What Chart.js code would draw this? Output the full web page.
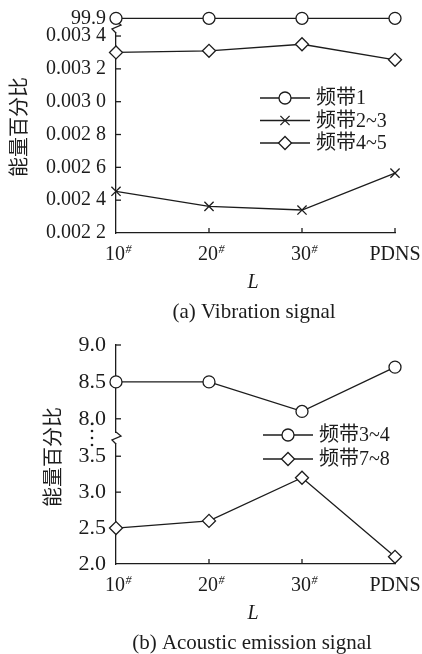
<!DOCTYPE html>
<html lang="zh">
<head>
<meta charset="utf-8">
<title>能量百分比</title>
<script src="https://cdn.jsdelivr.net/npm/chart.js@4.4.0/dist/chart.umd.min.js"></script>
<style>
    html, body { margin: 0; padding: 0; background: #fff; }
    canvas { display: block; }
</style>
</head>
<body>
<canvas id="graficoVibracao" width="422" height="330"></canvas>
<canvas id="graficoAcustico" width="422" height="324"></canvas>
<script>
// Categorias do eixo x (o "#" final vira sobrescrito)
const categorias = ['10#', '20#', '30#', 'PDNS'];

// (a) Sinal de vibração
const vibBanda1 = [99.9, 99.9, 99.9, 99.9];
const vibBanda23 = [0.002454, 0.002362, 0.00234, 0.002565];
const vibBanda45 = [0.0033, 0.00331, 0.00335, 0.003255];
const vibTicksAlto = [99.9];
const vibTicksBaixo = [0.0022, 0.0024, 0.0026, 0.0028, 0.0030, 0.0032, 0.0034];

// (b) Sinal de emissão acústica
const aeBanda34 = [8.5, 8.5, 8.1, 8.7];
const aeBanda78 = [2.5, 2.6, 3.2, 2.1];
const aeTicksAlto = [8.0, 8.5, 9.0];
const aeTicksBaixo = [2.0, 2.5, 3.0, 3.5];

const tinta = '#1c1c1c';
const serif = '"Liberation Serif", "Times New Roman", serif';
const mista = '"Liberation Serif", "Noto Sans CJK SC", serif';
const larguraEixoY = 116;

Chart.defaults.animation = false;

function formatarMilesimos(v) {
    const s = v.toFixed(4);
    return s.slice(0, 5) + ' ' + s.slice(5);
}

function serie(label, dados, eixo, estilo, raio) {
    return {
        label: label,
        data: dados,
        yAxisID: eixo,
        borderColor: tinta,
        borderWidth: 1.3,
        pointStyle: estilo,
        pointRadius: raio,
        pointBorderWidth: 1.3,
        pointBorderColor: tinta,
        pointBackgroundColor: '#fff',
        tension: 0,
        clip: false
    };
}

function eixoY(ticks, min, max, peso, tamanho, formato) {
    return {
        type: 'linear',
        position: 'left',
        stack: 'esquerda',
        stackWeight: peso,
        min: min,
        max: max,
        afterBuildTicks: eixo => { eixo.ticks = ticks.map(v => ({ value: v })); },
        afterFit: eixo => {
            // largura fixa e sem folga extra para os rótulos das pontas
            eixo.width = larguraEixoY;
            eixo.paddingTop = 0;
            eixo.paddingBottom = 0;
        },
        grid: { display: false, drawTicks: false },
        border: { display: true, color: tinta, width: 1.3 },
        ticks: {
            autoSkip: false,
            padding: 10,
            color: tinta,
            font: { family: serif, size: tamanho },
            callback: v => formato(v)
        }
    };
}

// Marcas de escala voltadas para dentro, rótulos do eixo x, legenda e quebra do eixo
const decoracao = {
    id: 'decoracao',
    beforeDatasetsDraw(chart, args, op) {
        const ctx = chart.ctx;
        const area = chart.chartArea;
        ctx.save();
        ctx.strokeStyle = tinta;
        ctx.lineWidth = 1.3;

        // marcas internas
        Object.values(chart.scales).forEach(s => {
            if (s.axis === 'y') {
                s.ticks.forEach(t => {
                    const y = s.getPixelForValue(t.value);
                    if (Math.abs(y - area.bottom) < 1) return;
                    ctx.beginPath();
                    ctx.moveTo(area.left, y);
                    ctx.lineTo(area.left + 5, y);
                    ctx.stroke();
                });
            } else {
                s.ticks.forEach((t, i) => {
                    if (i === 0) return;
                    const x = s.getPixelForTick(i);
                    ctx.beginPath();
                    ctx.moveTo(x, area.bottom);
                    ctx.lineTo(x, area.bottom - 5);
                    ctx.stroke();
                });
            }
        });

        // quebra do eixo entre os dois segmentos empilhados
        const b = chart.scales[op.eixoBaixo].top;
        const x0 = area.left;
        ctx.fillStyle = '#fff';
        ctx.fillRect(x0 - 2, b - 5, 4, 10);
        ctx.beginPath();
        ctx.moveTo(x0, b - 6);
        ctx.lineTo(x0 + 5, b - 2);
        ctx.lineTo(x0 - 4, b + 2);
        ctx.lineTo(x0, b + 6);
        ctx.stroke();

        if (op.pontilhado) {
            ctx.fillStyle = tinta;
            [-8, -1, 6, 13].forEach(d => {
                ctx.beginPath();
                ctx.arc(op.pontilhado, b + d - 6, 1.3, 0, Math.PI * 2);
                ctx.fill();
            });
        }
        ctx.restore();
    },
    afterDraw(chart, args, op) {
        const ctx = chart.ctx;
        const area = chart.chartArea;
        const sx = chart.scales.x;
        ctx.save();
        ctx.fillStyle = tinta;
        ctx.strokeStyle = tinta;

        // rótulos do eixo x com "#" sobrescrito
        categorias.forEach((cat, i) => {
            const x = sx.getPixelForTick(i);
            const sobrescrito = cat.endsWith('#');
            const base = sobrescrito ? cat.slice(0, -1) : cat;
            ctx.font = '20px ' + serif;
            const w = ctx.measureText(base).width;
            ctx.textAlign = 'left';
            ctx.textBaseline = 'alphabetic';
            const inicio = sobrescrito ? x - w / 2 - 1 : x - w / 2;
            ctx.fillText(base, inicio, area.bottom + 27);
            if (sobrescrito) {
                ctx.font = 'italic 12px ' + serif;
                ctx.fillText('#', inicio + w + 0.5, area.bottom + 19.5);
            }
        });

        // título do eixo x e legenda da figura
        ctx.textAlign = 'center';
        ctx.font = 'italic 20px ' + serif;
        ctx.fillText('L', 253, area.bottom + 55);
        ctx.font = '21px ' + serif;
        ctx.fillText(op.legenda, op.legendaX, area.bottom + 85);

        // título do eixo y
        ctx.save();
        ctx.translate(op.tituloY, 127);
        ctx.rotate(-Math.PI / 2);
        ctx.font = '20px "Noto Sans CJK SC", sans-serif';
        ctx.textBaseline = 'middle';
        ctx.fillText('能量百分比', 0, 0);
        ctx.restore();

        // legenda das séries
        chart.data.datasets.forEach((ds, i) => {
            const y = op.legY + i * op.legPasso;
            ctx.lineWidth = 1.3;
            ctx.beginPath();
            ctx.moveTo(op.legX, y);
            ctx.lineTo(op.legX + 50, y);
            ctx.stroke();
            ctx.fillStyle = '#fff';
            Chart.helpers.drawPoint(ctx, {
                pointStyle: ds.pointStyle,
                radius: ds.pointRadius,
                rotation: 0,
                borderWidth: 1.3
            }, op.legX + 25, y);
            ctx.fillStyle = tinta;
            ctx.font = '20px ' + mista;
            ctx.textAlign = 'left';
            ctx.textBaseline = 'middle';
            ctx.fillText(ds.label, op.legX + 56, y + 1);
        });
        ctx.restore();
    }
};

function criarGrafico(id, datasets, eixos, topo, alturaX, opcoes) {
    const ctx = document.getElementById(id).getContext('2d');
    return new Chart(ctx, {
        type: 'line',
        data: { labels: categorias, datasets: datasets },
        options: {
            responsive: false,
            layout: { padding: { top: topo, right: 27, left: 0, bottom: 0 } },
            plugins: {
                legend: { display: false },
                tooltip: { enabled: false },
                decoracao: opcoes
            },
            scales: Object.assign({
                x: {
                    type: 'category',
                    offset: false,
                    afterFit: eixo => {
                        eixo.height = alturaX;
                        eixo.paddingLeft = 0;
                        eixo.paddingRight = 0;
                    },
                    grid: { display: false, drawTicks: false },
                    border: { display: true, color: tinta, width: 1.3 },
                    ticks: { display: false }
                }
            }, eixos)
        },
        plugins: [decoracao]
    });
}

// (a) Vibration signal — o segmento de baixo é declarado primeiro
criarGrafico('graficoVibracao', [
    serie('频带1', vibBanda1, 'yAlto', 'circle', 6),
    serie('频带2~3', vibBanda23, 'yBaixo', 'crossRot', 6.5),
    serie('频带4~5', vibBanda45, 'yBaixo', 'rectRot', 6.5)
], {
    yBaixo: eixoY(vibTicksBaixo, 0.0022, 0.003455, 206, 20, formatarMilesimos),
    yAlto: eixoY(vibTicksAlto, 99.82, 99.94, 13, 20, v => v.toFixed(1))
}, 14, 97, {
    eixoBaixo: 'yBaixo',
    legenda: '(a) Vibration signal',
    legendaX: 254,
    tituloY: 18,
    legX: 260,
    legY: 98,
    legPasso: 22.5
});

// (b) Acoustic emission signal
criarGrafico('graficoAcustico', [
    serie('频带3~4', aeBanda34, 'yAlto', 'circle', 6),
    serie('频带7~8', aeBanda78, 'yBaixo', 'rectRot', 6.5)
], {
    yBaixo: eixoY(aeTicksBaixo, 2.0, 3.754, 124.7, 22, v => v.toFixed(1)),
    yAlto: eixoY(aeTicksAlto, 7.74, 9.0, 92, 22, v => v.toFixed(1))
}, 15, 90, {
    eixoBaixo: 'yBaixo',
    pontilhado: 92,
    legenda: '(b) Acoustic emission signal',
    legendaX: 252,
    tituloY: 52,
    legX: 263,
    legY: 105,
    legPasso: 24
});
</script>
</body>
</html>
